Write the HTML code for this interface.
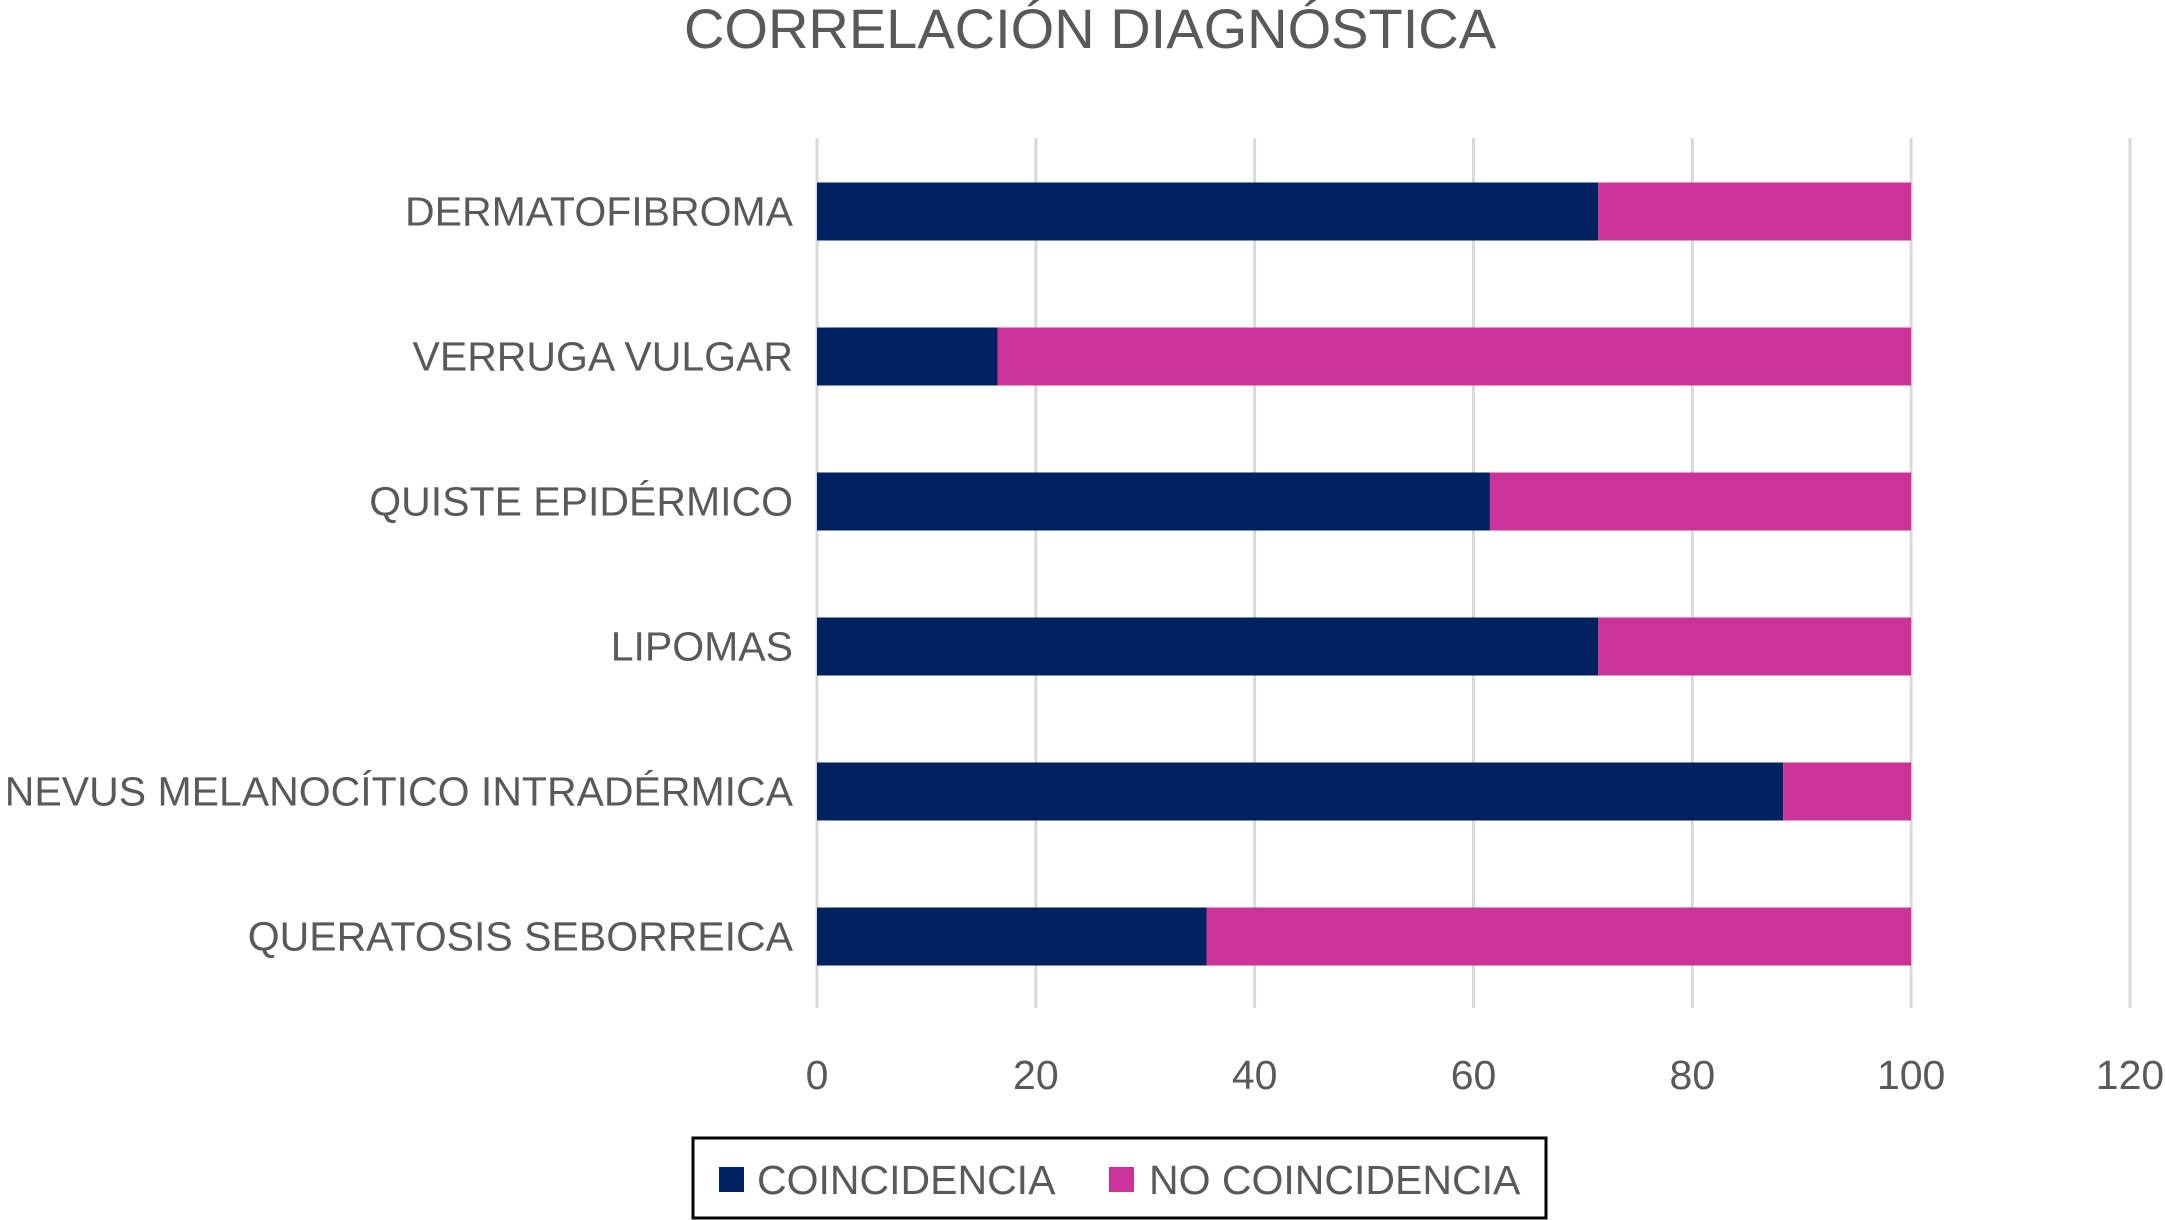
<!DOCTYPE html>
<html><head><meta charset="utf-8"><style>
body{margin:0;background:#fff;}
svg{display:block;font-family:"Liberation Sans",sans-serif;}
</style></head><body>
<svg id="chart" width="2165" height="1220">
<text x="1090" y="48" text-anchor="middle" font-size="56" fill="#595959">CORRELACIÓN DIAGNÓSTICA</text>
<g id="grid"></g><g id="bars"></g><g id="labels"></g>
<g>
<rect x="693" y="1138" width="853" height="80" fill="#fff" stroke="#000" stroke-width="3"/>
<rect x="719" y="1167" width="25" height="25" fill="#00215f"/>
<text x="757" y="1194" font-size="41" fill="#595959">COINCIDENCIA</text>
<rect x="1109" y="1167" width="25" height="25" fill="#cc3399"/>
<text x="1149" y="1194" font-size="41" fill="#595959">NO COINCIDENCIA</text>
</g>
</svg>
<script>
const categories=["DERMATOFIBROMA","VERRUGA VULGAR","QUISTE EPIDÉRMICO","LIPOMAS","NEVUS MELANOCÍTICO INTRADÉRMICA","QUERATOSIS SEBORREICA"];
const coincidencia=[71.4,16.5,61.5,71.4,88.3,35.6];
const noCoincidencia=[28.6,83.5,38.5,28.6,11.7,64.4];
const ticks=[0,20,40,60,80,100,120];
const NS="http://www.w3.org/2000/svg";
const x0=817,x1=2130,xmax=120,yTop=138,yBottom=1008;
const xs=v=>x0+(x1-x0)*v/xmax;
const band=(yBottom-yTop)/categories.length;
const yc=i=>yTop+1+band*(i+0.5);
const bh=58;
function mk(tag,attrs,parent){const e=document.createElementNS(NS,tag);for(const k in attrs)e.setAttribute(k,attrs[k]);document.getElementById(parent).appendChild(e);return e;}
ticks.forEach(t=>{
 const l=mk('line',{x1:xs(t),x2:xs(t),y1:yTop,y2:yBottom,stroke:'#d9d9d9','stroke-width':3},'grid');
 
 
 const tx=mk('text',{x:xs(t),y:1089,'text-anchor':'middle','font-size':41,fill:'#595959'},'labels');
 tx.textContent=t;
 
 
});
categories.forEach((c,i)=>{
 const y=yc(i);
 const a=mk('rect',{x:xs(0),y:y-bh/2,width:xs(coincidencia[i])-xs(0),height:bh,fill:'#00215f'},'bars');
 
 
 const b=mk('rect',{x:xs(coincidencia[i]),y:y-bh/2,width:xs(coincidencia[i]+noCoincidencia[i])-xs(coincidencia[i]),height:bh,fill:'#cc3399'},'bars');
 
 
 const t=mk('text',{x:793,y:y+14,'text-anchor':'end','font-size':41,fill:'#595959'},'labels');
 t.textContent=c;
 
 
});
</script>
</body></html>
